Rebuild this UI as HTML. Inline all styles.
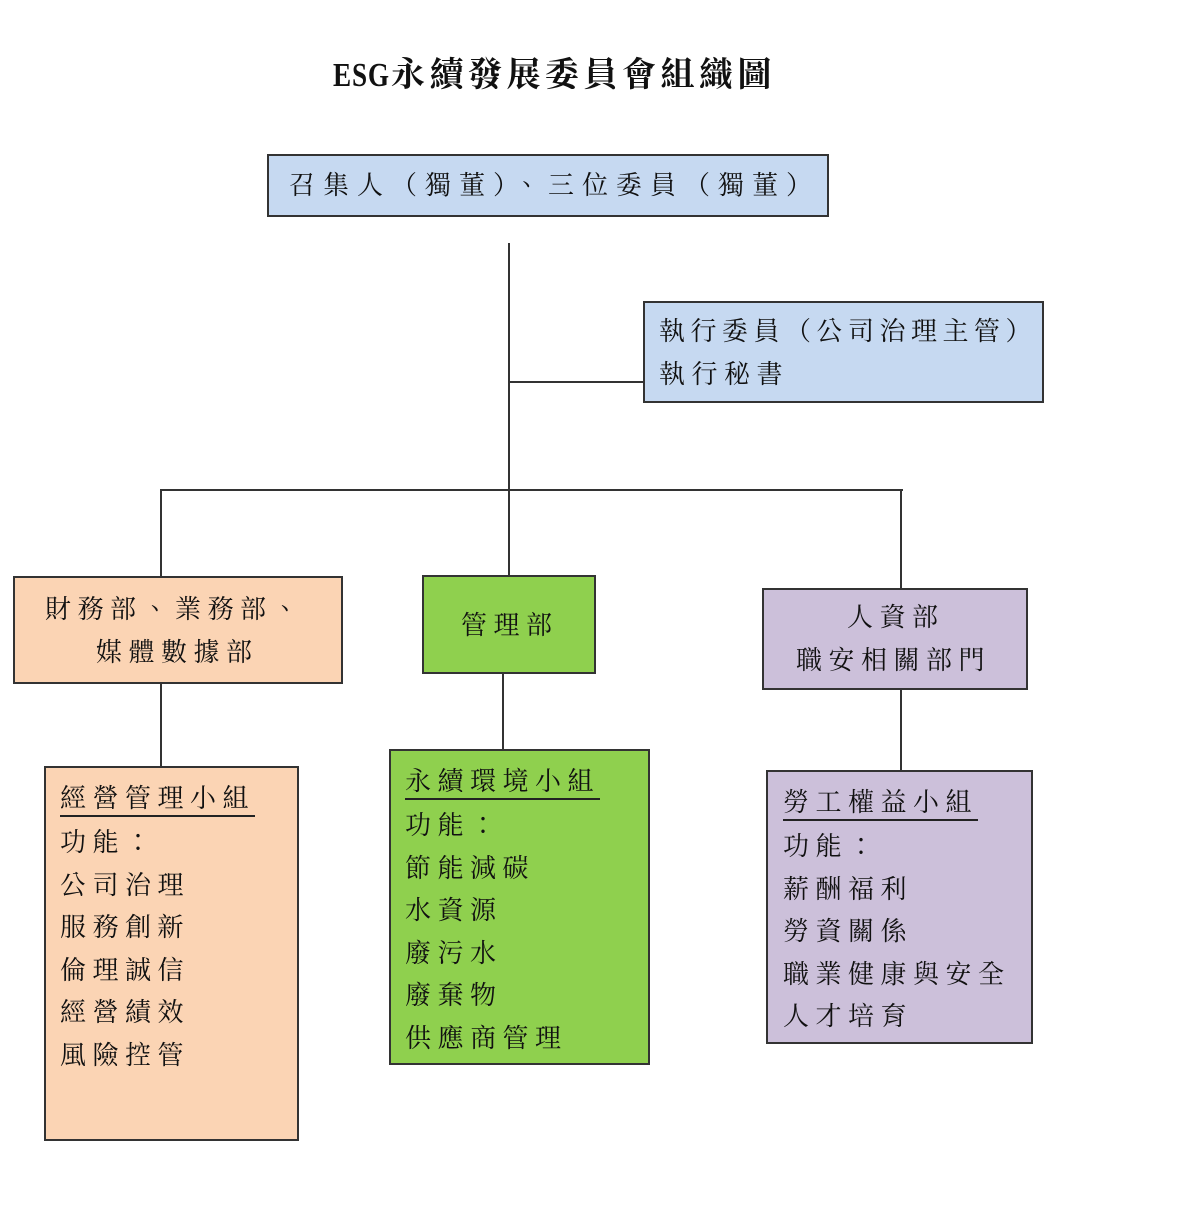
<!DOCTYPE html>
<html><head><meta charset="utf-8"><style>
body{margin:0;width:1189px;height:1221px;background:#fff;position:relative;overflow:hidden;font-family:"Noto Serif CJK TC","Noto Serif CJK SC","Liberation Serif",serif;color:#111}
.b{position:absolute;box-sizing:border-box;border:2px solid #333}
.l{position:absolute;background:#333}
.t{position:absolute;white-space:nowrap;font-size:26px;letter-spacing:6.5px;line-height:30px}
.blue{background:#c6d9f1}.peach{background:#fbd4b4}.green{background:#8fd04e}.purple{background:#ccc0da}
.g{position:absolute;font-size:26px;letter-spacing:6.5px;line-height:42.6px;white-space:nowrap}
.u{border-bottom:2px solid #222;display:inline-block;line-height:36px;margin-bottom:3px}
</style></head><body>
<div class="t" style="left:333px;top:52px;font-size:34px;letter-spacing:4.5px;font-weight:bold;line-height:40px"><span style="font-family:'Liberation Serif',serif;display:inline-block;transform:scaleX(0.8);transform-origin:left;margin-right:-13px;letter-spacing:1px">ESG</span>永續發展委員會組織圖</div>

<div class="b blue" style="left:267px;top:154px;width:562px;height:63px"></div>
<div class="t" style="left:289px;top:169px;letter-spacing:8px">召集人（獨董）、三位委員（獨董）</div>

<div class="l" style="left:508px;top:243px;width:2px;height:332px"></div>
<div class="l" style="left:509px;top:381px;width:134px;height:2px"></div>
<div class="b blue" style="left:643px;top:301px;width:401px;height:102px"></div>
<div class="t" style="left:659px;top:315px;letter-spacing:5.5px">執行委員（公司治理主管）</div>
<div class="t" style="left:659px;top:358px">執行秘書</div>

<div class="l" style="left:160px;top:489px;width:743px;height:2px"></div>
<div class="l" style="left:160px;top:489px;width:2px;height:87px"></div>
<div class="l" style="left:900px;top:489px;width:2px;height:99px"></div>

<div class="b peach" style="left:13px;top:576px;width:330px;height:108px"></div>
<div class="t" style="left:45px;top:593px">財務部、業務部、</div>
<div class="t" style="left:96px;top:636px">媒體數據部</div>

<div class="b green" style="left:422px;top:575px;width:174px;height:99px"></div>
<div class="t" style="left:461px;top:609px">管理部</div>

<div class="b purple" style="left:762px;top:588px;width:266px;height:102px"></div>
<div class="t" style="left:847px;top:601px">人資部</div>
<div class="t" style="left:796px;top:644px">職安相關部門</div>

<div class="l" style="left:160px;top:683px;width:2px;height:83px"></div>
<div class="l" style="left:502px;top:673px;width:2px;height:76px"></div>
<div class="l" style="left:900px;top:689px;width:2px;height:81px"></div>

<div class="b peach" style="left:44px;top:766px;width:255px;height:375px"></div>
<div class="g" style="left:60px;top:776px"><span class="u">經營管理小組</span><br>功能：<br>公司治理<br>服務創新<br>倫理誠信<br>經營績效<br>風險控管</div>

<div class="b green" style="left:389px;top:749px;width:261px;height:316px"></div>
<div class="g" style="left:405px;top:759px"><span class="u">永續環境小組</span><br>功能：<br>節能減碳<br>水資源<br>廢污水<br>廢棄物<br>供應商管理</div>

<div class="b purple" style="left:766px;top:770px;width:267px;height:274px"></div>
<div class="g" style="left:783px;top:780px"><span class="u">勞工權益小組</span><br>功能：<br>薪酬福利<br>勞資關係<br>職業健康與安全<br>人才培育</div>
</body></html>
